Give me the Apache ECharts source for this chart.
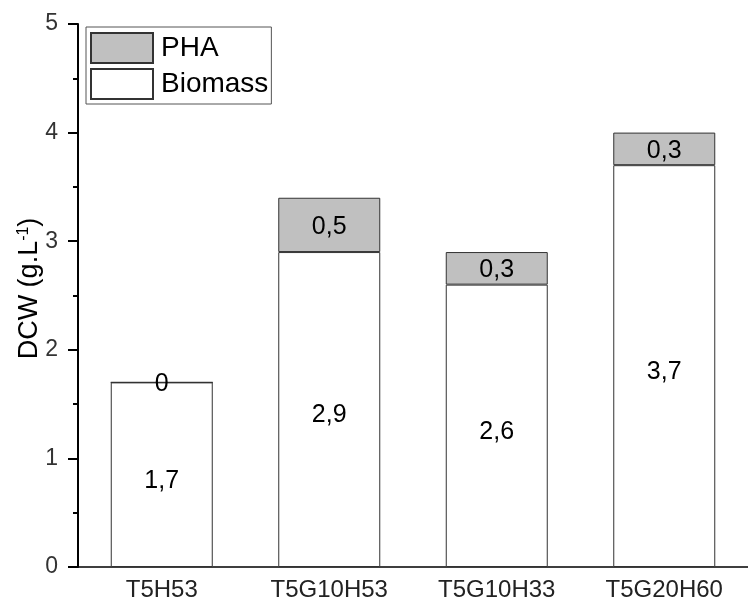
<!DOCTYPE html>
<html>
<head>
<meta charset="utf-8">
<script src="https://cdn.jsdelivr.net/npm/echarts@6/dist/echarts.min.js"></script>
<style>html,body{margin:0;padding:0;background:#fff}#c{width:748px;height:610px}</style>
</head>
<body>
<div id="c"></div>
<script>
var categories = ['T5H53', 'T5G10H53', 'T5G10H33', 'T5G20H60'];
var biomass = [1.7, 2.9, 2.6, 3.7];
var pha = [0, 0.5, 0.3, 0.3];
var yTicks = [0, 1, 2, 3, 4, 5];

var FONT = '"Liberation Sans", Arial, sans-serif';
function fmt(v) { return String(v).replace('.', ','); }

var chart = echarts.init(document.getElementById('c'), null, {renderer: 'canvas'});
chart.setOption({
  animation: false,
  textStyle: {fontFamily: FONT},
  grid: {left: 78, right: -7, top: 24, bottom: 43},
  legend: {
    orient: 'vertical',
    left: 86, top: 27,
    data: ['PHA', 'Biomass'],
    icon: 'rect',
    itemWidth: 62, itemHeight: 30, itemGap: 4,
    padding: [5, 3, 4, 4],
    borderColor: '#555', borderWidth: 1,
    textStyle: {fontSize: 28, color: '#000', fontFamily: FONT, padding: [0, 0, 0, 3]}
  },
  xAxis: {
    type: 'category',
    data: categories,
    axisLine: {lineStyle: {color: '#000', width: 1.5}},
    axisTick: {alignWithLabel: true, length: 8, lineStyle: {color: '#000', width: 1.5}},
    axisLabel: {fontSize: 24, color: '#222', margin: 11, fontFamily: FONT, interval: 0}
  },
  yAxis: {
    type: 'value',
    min: yTicks[0], max: yTicks[yTicks.length - 1], interval: 1,
    name: '{a|DCW (g.L}{s|-1}{a|)}',
    nameLocation: 'middle',
    nameGap: 34,
    nameMoveOverlap: false,
    nameTextStyle: {
      padding: [0, 0, 0, 14],
      rich: {
        a: {fontSize: 27, color: '#000', fontFamily: FONT},
        s: {fontSize: 16, color: '#000', fontFamily: FONT, verticalAlign: 'top', padding: [0, 0, 12, 0]}
      }
    },
    axisLine: {show: true, lineStyle: {color: '#000', width: 2}},
    axisTick: {show: true, length: 10, lineStyle: {color: '#000', width: 2}},
    minorTick: {show: true, splitNumber: 2, length: 5, lineStyle: {color: '#000', width: 2}},
    splitLine: {show: false},
    axisLabel: {fontSize: 23, color: '#333', margin: 20, fontFamily: FONT}
  },
  series: [
    {
      name: 'Biomass', type: 'bar', stack: 'a', data: biomass, barWidth: 102,
      itemStyle: {color: '#fff', borderColor: '#333', borderWidth: 1},
      label: {show: true, position: 'inside', fontSize: 25, color: '#000', fontFamily: FONT, offset: [0, 6],
        formatter: function (p) { return fmt(p.value); }}
    },
    {
      name: 'PHA', type: 'bar', stack: 'a', data: pha, barWidth: 102,
      itemStyle: {color: '#c0c0c0', borderColor: '#333', borderWidth: 1},
      label: {show: true, position: 'inside', fontSize: 25, color: '#000', fontFamily: FONT, offset: [0, 2],
        formatter: function (p) { return fmt(p.value); }}
    }
  ]
});
</script>
</body>
</html>
